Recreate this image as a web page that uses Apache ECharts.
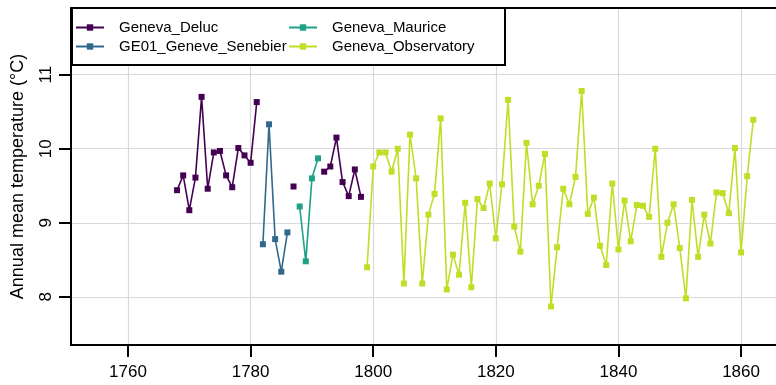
<!DOCTYPE html>
<html>
<head>
<meta charset="utf-8">
<script src="https://cdn.jsdelivr.net/npm/echarts@6/dist/echarts.min.js"></script>
<style>
  html, body { margin: 0; padding: 0; background: #fff; }
  #chart { width: 776px; height: 385px; }
</style>
</head>
<body>
<div id="chart"></div>
<script>
// annual means (null = no value that year)
const delucYears = [1768, 1769, 1770, 1771, 1772, 1773, 1774, 1775, 1776, 1777, 1778, 1779, 1780, 1781,
  1782, 1783, 1784, 1785, 1786, 1787, 1788, 1789, 1790, 1791,
  1792, 1793, 1794, 1795, 1796, 1797, 1798];
const delucValues = [9.44, 9.64, 9.17, 9.61, 10.70, 9.46, 9.95, 9.97, 9.64, 9.48, 10.01, 9.91, 9.81, 10.63,
  null, null, null, null, null, 9.49, null, null, null, null,
  9.69, 9.76, 10.15, 9.55, 9.36, 9.72, 9.35];

const senebierYears = [1782, 1783, 1784, 1785, 1786];
const senebierValues = [8.71, 10.33, 8.78, 8.34, 8.87];

const mauriceYears = [1788, 1789, 1790, 1791];
const mauriceValues = [9.22, 8.48, 9.60, 9.87];

const obsYears = [];
for (let y = 1799; y <= 1862; y++) obsYears.push(y);
const obsValues = [8.40, 9.76, 9.95, 9.95, 9.69, 10.00, 8.18, 10.19, 9.60, 8.18,
  9.11, 9.39, 10.41, 8.10, 8.57, 8.30, 9.27, 8.13, 9.32, 9.20,
  9.53, 8.79, 9.52, 10.66, 8.95, 8.61, 10.08, 9.25, 9.50, 9.93,
  7.87, 8.67, 9.46, 9.25, 9.62, 10.78, 9.12, 9.34, 8.69, 8.43,
  9.53, 8.64, 9.30, 8.75, 9.24, 9.23, 9.08, 10.00, 8.54, 9.00,
  9.25, 8.66, 7.98, 9.31, 8.54, 9.11, 8.72, 9.41, 9.40, 9.13,
  10.01, 8.60, 9.63, 10.39];

const xTicks = [1760, 1780, 1800, 1820, 1840, 1860];
const yTicks = [8, 9, 10, 11];

const colors = ['#440154', '#31688E', '#1FA187', '#BDDF26'];
const font = 'Liberation Sans, Arial, sans-serif';

function pairs(xs, ys) {
  return xs.map((x, i) => [x, ys[i] == null ? '-' : ys[i]]);
}

function lineSeries(name, xs, ys, color) {
  return {
    name: name,
    type: 'line',
    data: pairs(xs, ys),
    symbol: 'rect',
    symbolSize: 6,
    showAllSymbol: true,
    connectNulls: false,
    lineStyle: { color: color, width: 1.6 },
    itemStyle: { color: color },
    emphasis: { disabled: true },
    animation: false
  };
}

const chart = echarts.init(document.getElementById('chart'));

const legendCommon = {
  orient: 'vertical',
  top: 20,
  itemWidth: 28,
  itemHeight: 8,
  itemGap: 4,
  padding: 0,
  z: 12,
  textStyle: { fontFamily: font, fontSize: 15, color: '#000', padding: [0, 0, 0, 10] }
};

chart.setOption({
  animation: false,
  grid: { left: 71, right: 0, top: 8, bottom: 40 },
  legend: [
    Object.assign({}, legendCommon, { left: 75, data: ['Geneva_Deluc', 'GE01_Geneve_Senebier'] }),
    Object.assign({}, legendCommon, { left: 288, data: ['Geneva_Maurice', 'Geneva_Observatory'] })
  ],
  graphic: [{
    type: 'rect',
    z: 10,
    shape: { x: 72, y: 8, width: 433, height: 57 },
    style: { fill: '#fff', stroke: '#000', lineWidth: 2 }
  }],
  xAxis: [{
    type: 'value',
    min: 1750.7,
    max: 1865.7,
    axisLine: { show: true, lineStyle: { color: '#000', width: 2 } },
    axisTick: { show: true, length: 12, lineStyle: { color: '#000', width: 2 }, customValues: xTicks },
    axisLabel: { customValues: xTicks, formatter: v => String(v), fontFamily: font, fontSize: 17, color: '#000', margin: 19 },
    splitLine: { show: true, lineStyle: { color: '#d9d9d9', width: 1.2 } }
  }, {
    type: 'value',
    position: 'top',
    min: 1750.7,
    max: 1865.7,
    axisLine: { show: true, lineStyle: { color: '#000', width: 2 } },
    axisTick: { show: false },
    axisLabel: { show: false },
    splitLine: { show: false }
  }],
  yAxis: {
    type: 'value',
    min: 7.35,
    max: 11.9,
    name: 'Annual mean temperature (°C)',
    nameLocation: 'middle',
    nameGap: 44,
    nameTextStyle: { fontFamily: font, fontSize: 18, color: '#000' },
    axisLine: { show: true, lineStyle: { color: '#000', width: 2 } },
    axisTick: { show: true, length: 12, lineStyle: { color: '#000', width: 2 }, customValues: yTicks },
    axisLabel: { customValues: yTicks, rotate: 90, fontFamily: font, fontSize: 17, color: '#000', margin: 16 },
    splitLine: { show: true, lineStyle: { color: '#d9d9d9', width: 1.2 } }
  },
  series: [
    lineSeries('Geneva_Deluc', delucYears, delucValues, colors[0]),
    lineSeries('GE01_Geneve_Senebier', senebierYears, senebierValues, colors[1]),
    lineSeries('Geneva_Maurice', mauriceYears, mauriceValues, colors[2]),
    lineSeries('Geneva_Observatory', obsYears, obsValues, colors[3])
  ]
});
</script>
</body>
</html>
